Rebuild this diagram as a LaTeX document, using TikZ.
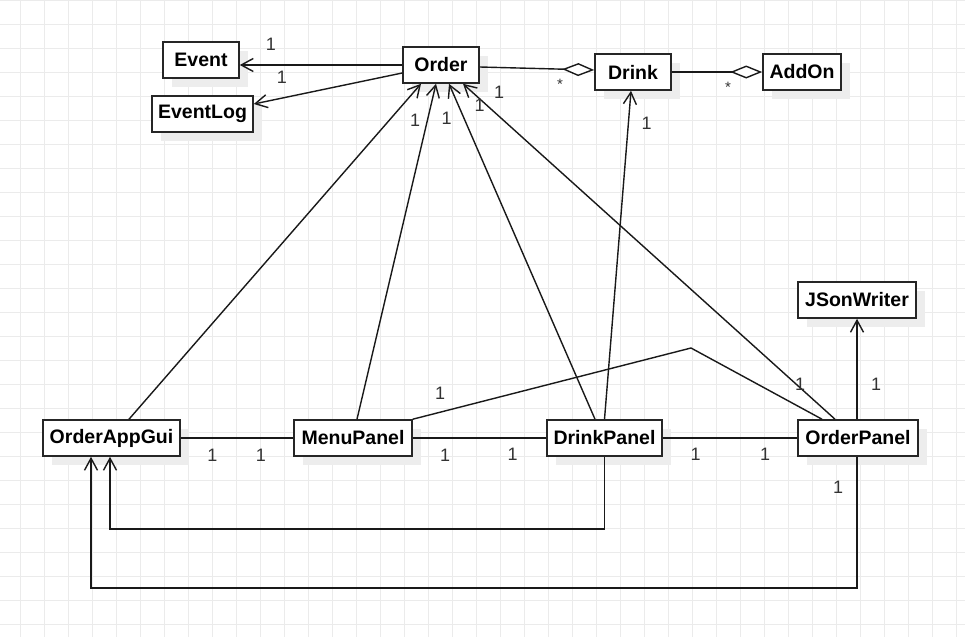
\documentclass[tikz,border=0pt]{standalone}
\usepackage{fontspec}
\setmainfont{Liberation Sans}
\usetikzlibrary{arrows.meta,calc,shadows}
\begin{document}
\begin{tikzpicture}[x=1pt,y=-1pt,
  cls/.style={draw=black!85, line width=1.6pt, fill=white, minimum height=36pt, inner sep=0pt,
    font=\fontsize{19.5}{22}\selectfont\bfseries,
    general shadow={fill=black!7, shadow xshift=9pt, shadow yshift=-9pt}},
  conn/.style={line width=1.4pt, draw=black!90},
  nav/.style={conn, -{Straight Barb[length=12pt,width=13pt]}},
  agg/.style={conn, -{Diamond[length=32pt,width=13pt,fill=white]}},
  mult/.style={font=\fontsize{18}{20}\selectfont, text=black!80, inner sep=0pt},
  star/.style={font=\fontsize{15}{18}\selectfont, text=black!80, inner sep=0pt},
  gridline/.style={draw=black!8, line width=0.8pt}
]
\useasboundingbox (0,0) rectangle (965,637);
\fill[white] (0,0) rectangle (965,637);
\foreach \x in {20,44,...,956} \draw[gridline] (\x,0) -- (\x,637);
\foreach \y in {0,24,...,624} \draw[gridline] (0,\y) -- (965,\y);

% classes
\node[cls, minimum width=76pt]  (event) at (201,60)    {Event};
\node[cls, minimum width=101pt] (evlog) at (202.5,114) {EventLog};
\node[cls, minimum width=76pt]  (ord)   at (441,65)    {Order};
\node[cls, minimum width=76pt]  (drink) at (633,72)    {Drink};
\node[cls, minimum width=78pt]  (addon) at (802,72)    {AddOn};
\node[cls, minimum width=118pt] (js)    at (857,300)   {JSonWriter};
\node[cls, minimum width=137pt] (oag)   at (111.5,438) {OrderAppGui};
\node[cls, minimum width=118pt] (mp)    at (353,438)   {MenuPanel};
\node[cls, minimum width=115pt] (dp)    at (604.5,438) {DrinkPanel};
\node[cls, minimum width=120pt] (op)    at (858,438)   {OrderPanel};

\coordinate (bend) at (691,348);

% connectors
\draw[nav] (ord.west) -- (ord.west -| event.east);
\draw[nav] ($(ord.west)+(0,8)$) -- ($(evlog.east)+(0,-10)$);
\draw[agg] ($(ord.east)+(0,2)$) -- ($(drink.west)+(0,-2)$);
\draw[agg] (drink.east) -- (addon.west);
\draw[nav] (dp.north) -- ($(drink.south)+(-2,0)$);
\draw[nav] ($(oag.north)+(17.5,0)$) -- ($(ord.south)+(-20,0)$);
\draw[nav] ($(mp.north)+(4,0)$) -- ($(ord.south)+(-5,0)$);
\draw[nav] ($(dp.north)+(-9.5,0)$) -- ($(ord.south)+(8,0)$);
\draw[nav] ($(op.north)+(-23,0)$) -- ($(ord.south)+(22,0)$);
\draw[conn] (mp.north east) -- (bend) -- ($(op.north)+(-36,0)$);
\draw[conn] (oag.east) -- (mp.west);
\draw[conn] (mp.east) -- (dp.west);
\draw[conn] (dp.east) -- (op.west);
\draw[nav] (js.south |- op.north) -- (js.south);
\draw[nav] (dp.south) -- ++(0,72) -| ($(oag.south)+(-1.5,0)$);
\draw[nav] (js.south |- op.south) -- ++(0,131) -| ($(oag.south)+(-20.5,0)$);

% multiplicities
\node[mult] (m1)  at (271,44)  {1};
\node[mult] (m2)  at (282,77)  {1};
\node[star] (s1)  at (560,84)  {*};
\node[star] (s2)  at (728,87)  {*};
\node[mult] (m3)  at (646.5,123) {1};
\node[mult] (m4)  at (415,120) {1};
\node[mult] (m5)  at (446.5,118) {1};
\node[mult] (m6)  at (479.5,105) {1};
\node[mult] (m7)  at (499,92)  {1};
\node[mult] (m8)  at (800,384) {1};
\node[mult] (m9)  at (876,384) {1};
\node[mult] (m10) at (440,393) {1};
\node[mult] (m11) at (212.5,455) {1};
\node[mult] (m12) at (261,455) {1};
\node[mult] (m13) at (445,455) {1};
\node[mult] (m14) at (512.5,454) {1};
\node[mult] (m15) at (695.5,454) {1};
\node[mult] (m16) at (765,454) {1};
\node[mult] (m17) at (838,487) {1};
\end{tikzpicture}
\end{document}
